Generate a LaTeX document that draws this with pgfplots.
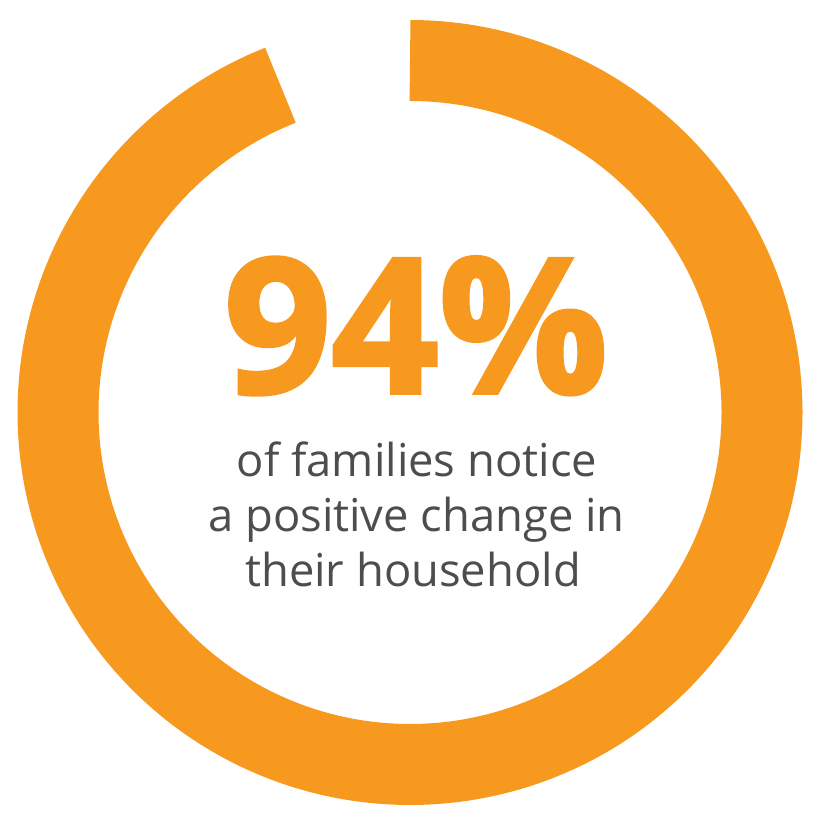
\documentclass[border=0pt]{standalone}
\usepackage{pgfplots}
\usepackage{pgfplotstable}
\pgfplotsset{compat=1.18}
\usepackage{fontspec}
\setmainfont{Open Sans}
\newfontfamily\heavyfont{Open Sans Bold}[FakeBold=2]
\definecolor{ringorange}{HTML}{F7991F}
\definecolor{txtgray}{HTML}{4D4D4F}
\pgfplotstableread{
label value
families 94
}\datatable
\pgfplotstablegetelem{0}{value}\of\datatable
\let\share\pgfplotsretval
\begin{document}
\begin{tikzpicture}
\begin{axis}[
  width=8.34cm, height=8.34cm, scale only axis,
  xmin=0, xmax=834, ymin=0, ymax=834,
  hide axis, clip=false,
]
\addplot[draw=ringorange, line width=0.81cm, line cap=butt,
  domain=0:\share, samples=189, smooth]
  ({410+352*sin(3.6*x)}, {421.5+352*cos(3.6*x)});
\path (axis cs:0,0) rectangle (axis cs:834,834);
\node[anchor=base, text=ringorange, font=\fontsize{53.5pt}{60pt}\selectfont\heavyfont, inner sep=0pt]
  at (axis cs:416,441) {\share\%};
\node[anchor=base, text=txtgray, font=\fontsize{12.9pt}{15pt}\selectfont, inner sep=0pt]
  at (axis cs:417,357) {of families notice};
\node[anchor=base, text=txtgray, font=\fontsize{12.9pt}{15pt}\selectfont, inner sep=0pt]
  at (axis cs:416.5,302) {a positive change in};
\node[anchor=base, text=txtgray, font=\fontsize{12.9pt}{15pt}\selectfont, inner sep=0pt]
  at (axis cs:413,247) {their household};
\end{axis}
\end{tikzpicture}
\end{document}
